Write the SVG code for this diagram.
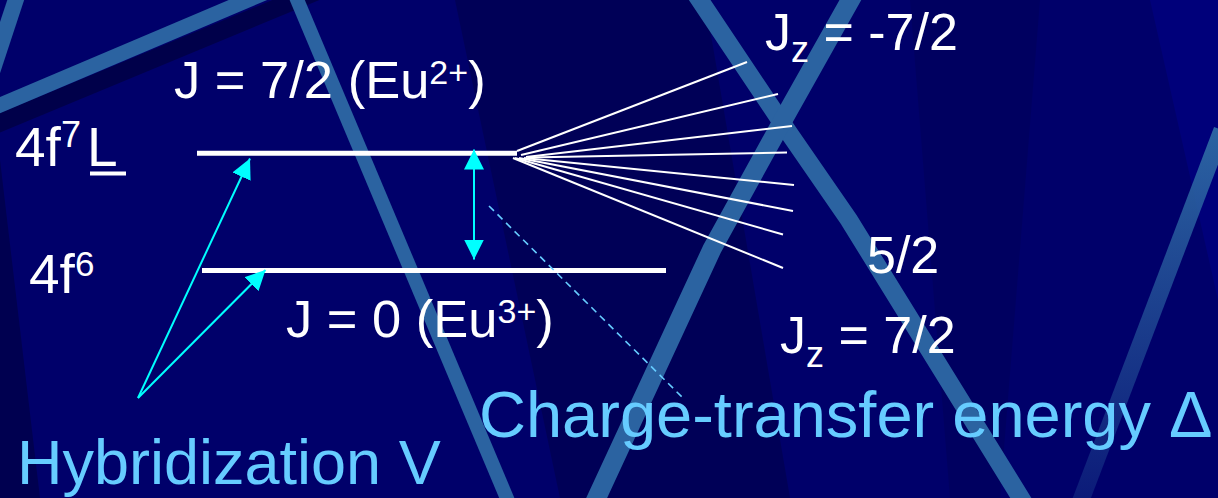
<svg xmlns="http://www.w3.org/2000/svg" width="1218" height="498" viewBox="0 0 1218 498">
<defs>
<style>
text{font-family:"Liberation Sans",Arial,sans-serif}
.w{fill:#FFFFFF}
.b{fill:#66CCFF}
.lvl{stroke:#FFFFFF;stroke-width:5;fill:none}
.fan{stroke:#FFFFFF;stroke-width:2;fill:none}
.cy{stroke:#00FFFF;stroke-width:2;fill:none}
.stripe{stroke:#2B63A1;fill:none}
</style>
<marker id="ah" viewBox="0 0 20 20" refX="20" refY="10" markerWidth="20" markerHeight="20" markerUnits="userSpaceOnUse" orient="auto-start-reverse">
<path d="M0,0 L20,10 L0,20 z" fill="#00FFFF"/>
</marker>
<linearGradient id="fade" x1="0" y1="0" x2="0" y2="1">
<stop offset="0" stop-color="#2B63A1"/>
<stop offset="1" stop-color="#2B63A1" stop-opacity="0.25"/>
</linearGradient>
</defs>
<g id="background">
<rect x="0" y="0" width="1218" height="498" fill="#00006A"/>
<polygon points="455,0 705,0 790,498 560,498" fill="#000052" opacity="0.8"/>
<polygon points="0,160 0,498 40,498" fill="#000050"/>
<polygon points="1150,0 1218,0 1218,300" fill="#00007A"/>
<polygon points="910,0 1040,0 1000,498 950,498" fill="#00005A" opacity="0.6"/>
<line x1="-20" y1="131" x2="320" y2="-10" stroke="#00004A" stroke-width="18"/>
<line x1="19" y1="-10" x2="-8" y2="72" class="stripe" stroke-width="16"/>
<line x1="-20" y1="113.5" x2="268" y2="-8.5" class="stripe" stroke-width="15"/>
<line x1="293" y1="-10" x2="511" y2="508" class="stripe" stroke-width="14"/>
<polyline points="693,-10 780,120 849,220 1027,508" class="stripe" stroke-width="18"/>
<polyline points="856,-10 783,120 712,249 592,508" class="stripe" stroke-width="19"/>
<line x1="1222" y1="130" x2="1078" y2="508" stroke="url(#fade)" stroke-width="17"/>
</g>
<g id="connectors">
<line x1="197" y1="153.3" x2="517" y2="153.3" class="lvl"/>
<line x1="202" y1="270.5" x2="666" y2="270.5" class="lvl"/>
<line x1="517" y1="151" x2="747" y2="62" class="fan"/>
<line x1="521" y1="155" x2="778" y2="94" class="fan"/>
<line x1="526" y1="157" x2="792" y2="126" class="fan"/>
<line x1="528" y1="157.5" x2="787" y2="152.5" class="fan"/>
<line x1="524" y1="158" x2="794" y2="185" class="fan"/>
<line x1="519" y1="158" x2="793" y2="211" class="fan"/>
<line x1="515" y1="158" x2="783" y2="234.5" class="fan"/>
<line x1="513" y1="158" x2="783" y2="268" class="fan"/>
<line x1="474" y1="149.5" x2="474" y2="259.5" class="cy" marker-start="url(#ah)" marker-end="url(#ah)"/>
<line x1="138" y1="398" x2="250" y2="158.5" class="cy" marker-end="url(#ah)"/>
<line x1="138" y1="398" x2="265.5" y2="270" class="cy" marker-end="url(#ah)"/>
<line x1="489" y1="206" x2="683" y2="398" stroke="#66CCFF" stroke-width="1.6" stroke-dasharray="7 5"/>
</g>
<g id="node-4f7L">
<text x="15" y="166" class="w" font-size="55">4f<tspan font-size="36" dy="-19">7</tspan><tspan dx="6" dy="19">L</tspan></text>
<line x1="90" y1="173.5" x2="126" y2="173.5" stroke="#FFFFFF" stroke-width="4"/>
</g>
<g id="node-4f6">
<text x="29" y="293" class="w" font-size="55">4f<tspan font-size="35" dy="-17">6</tspan></text>
</g>
<g id="node-J72">
<text x="174" y="98" class="w" font-size="52.5">J = 7/2 (Eu<tspan font-size="34" dy="-14">2+</tspan><tspan dy="14">)</tspan></text>
</g>
<g id="node-J0">
<text x="286" y="337" class="w" font-size="52.5">J = 0 (Eu<tspan font-size="34" dy="-14">3+</tspan><tspan dy="14">)</tspan></text>
</g>
<g id="node-Jz-top">
<text x="765" y="50" class="w" font-size="52">J<tspan font-size="36" dy="12">z</tspan><tspan dy="-12"> = -7/2</tspan></text>
</g>
<g id="node-52">
<text x="867" y="273" class="w" font-size="52">5/2</text>
</g>
<g id="node-Jz-bottom">
<text x="780" y="353" class="w" font-size="52">J<tspan font-size="36" dy="13.5">z</tspan><tspan dy="-13.5"> = 7/2</tspan></text>
</g>
<g id="node-hyb">
<text x="17" y="484" class="b" font-size="63">Hybridization V</text>
</g>
<g id="node-ct">
<text x="479" y="437" class="b" font-size="65">Charge-transfer energy  Δ</text>
</g>
</svg>
